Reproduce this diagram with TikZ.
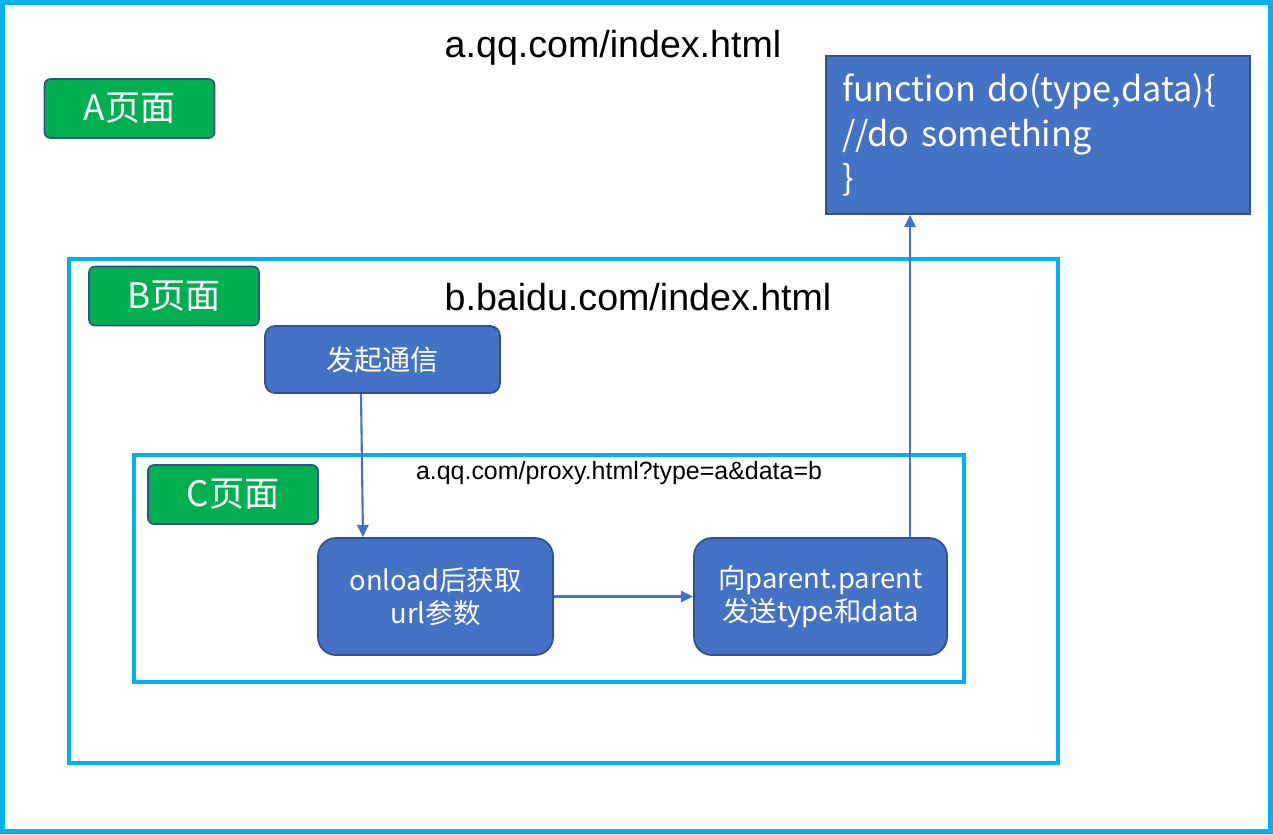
\documentclass[tikz,border=0pt]{standalone}
\usepackage{fontspec}
\setmainfont{Liberation Sans}
\newfontfamily\cjk{Noto Sans CJK SC}
\usetikzlibrary{positioning}
\usetikzlibrary{arrows.meta,calc}
\definecolor{framecyan}{HTML}{00B0F0}
\definecolor{pagegreen}{HTML}{00B050}
\definecolor{boxblue}{HTML}{4472C4}
\definecolor{boxedge}{HTML}{2F528F}
\tikzstyle{frame}=[draw=framecyan,line width=2.3pt]
\tikzstyle{pagetag}=[draw=boxedge,fill=pagegreen,line width=1pt,rounded corners=0.12cm,minimum width=3.4cm,minimum height=1.18cm,inner sep=0pt,text=white,font=\cjk\fontsize{20}{24}\selectfont]
\tikzstyle{step box}=[draw=boxedge,fill=boxblue,line width=1pt,minimum width=4.7cm,inner sep=0pt,text=white,align=center]
\tikzstyle{url}=[font=\fontsize{21.4}{24}\selectfont]
\tikzstyle{link} = [draw,boxblue,line width=1.2pt,-{Triangle[length=7pt,width=6.5pt]}]

\begin{document}
\begin{tikzpicture}
  \useasboundingbox (0,0) rectangle (25.46,-16.68);
  % outer page A
  \draw[frame,line width=2.8pt] (0.05,-0.05) rectangle (25.41,-16.63);
  \node[url] (urlA) at (12.26,-0.96) {a.qq.com/index.html};
  \node[pagetag] (tagA) at (2.59,-2.17) {A页面};
  \node[draw=boxedge,fill=boxblue,line width=1pt,minimum width=8.48cm,minimum height=3.16cm,
        text width=7.84cm,inner xsep=0.32cm,align=left,text=white,
        font=\cjk\fontsize{19.5}{25.5}\selectfont] (fn) at (20.76,-2.70)
        {\raisebox{-2pt}{function do(type,data)\{}\\\raisebox{-2pt}{//do something}\\\raisebox{-2pt}{\}}};

  % iframe B
  \draw[frame] (1.38,-5.18) rectangle (21.16,-15.26);
  \node[pagetag] (tagB) at (3.48,-5.92) {B页面};
  \node[url] (urlB) at (12.76,-5.94) {b.baidu.com/index.html};
  \node[step box,minimum height=1.34cm,rounded corners=0.2cm,
        font=\cjk\fontsize{16}{19}\selectfont] (start) at (7.65,-7.19) {发起通信};

  % iframe C
  \draw[frame] (2.68,-9.10) rectangle (19.28,-13.64);
  \node[pagetag] (tagC) at (4.66,-9.89) {C页面};
  \node[font=\fontsize{14.2}{16}\selectfont] (urlC) at (12.38,-9.46) {a.qq.com/proxy.html?type=a\&data=b};
  \node[step box,minimum height=2.34cm,rounded corners=0.36cm,
        font=\cjk\fontsize{15.6}{18.7}\selectfont] (onload) at (8.71,-11.93) {onload后获取\\url参数};
  \node[step box,minimum width=5.06cm,minimum height=2.34cm,rounded corners=0.36cm,
        font=\cjk\fontsize{15.6}{18.7}\selectfont] (send) at (16.41,-11.93) {向parent.parent\\发送type和data};

  % connectors
  \path[link] ([xshift=-0.43cm]start.south) -- ([xshift=-1.45cm]onload.north);
  \path[link] (onload.east) -- (send.west);
  \path[link] ([xshift=1.79cm]send.north) -- ([xshift=1.79cm]send.north |- fn.south);
\end{tikzpicture}
\end{document}
